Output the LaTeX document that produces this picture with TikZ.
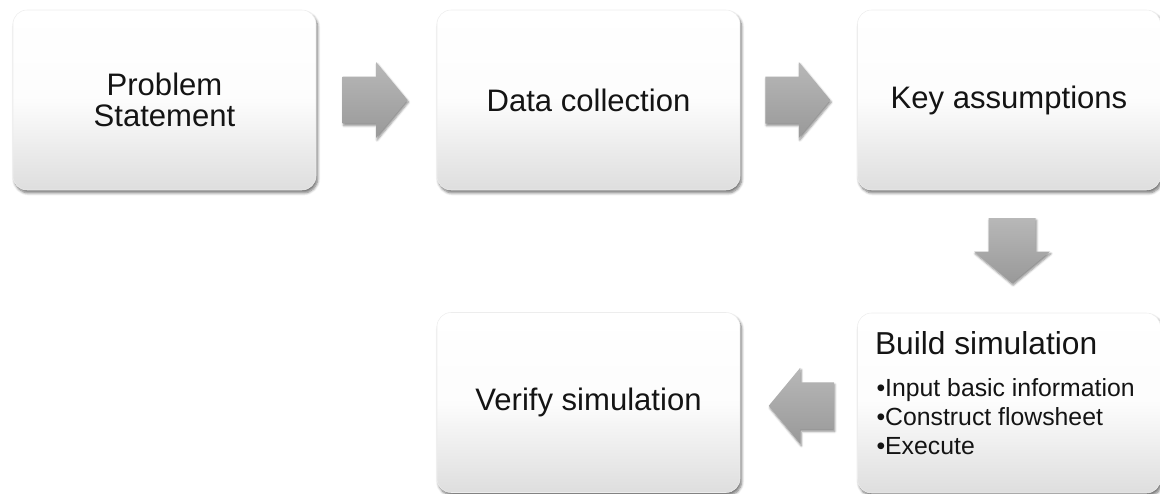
\documentclass[tikz,border=0pt]{standalone}
\usepackage{fontspec}
\setmainfont{Liberation Sans}
\usetikzlibrary{calc,shadows.blur}

\tikzset{
  stepbox/.style={
    rectangle, rounded corners=14*0.75pt,
    minimum width=303*0.75pt, minimum height=180*0.75pt,
    inner sep=0pt,
    draw=black!7, line width=0.4pt,
    top color=white, bottom color=black!13, middle color=black!1,
    blur shadow={shadow xshift=1.2pt, shadow yshift=-2.2pt,
                 shadow blur radius=2pt, shadow blur steps=6,
                 shadow opacity=55}
  },
  boxtext/.style={font=\fontsize{23.3}{23.5}\selectfont, text=black!92, align=center},
  listtext/.style={font=\fontsize{18.6}{20}\selectfont, text=black!92, anchor=base west, inner sep=0pt},
  pics/blockarrow/.style={code={
    \path[top color=black!28, bottom color=black!40,
          blur shadow={shadow xshift=0.8pt, shadow yshift=-1.6pt,
                       shadow blur radius=1.6pt, shadow blur steps=5,
                       shadow opacity=45}]
      (-32.5,-23.5) -- (1,-23.5) -- (1,-38) -- (32.5,0)
      -- (1,38) -- (1,23.5) -- (-32.5,23.5) -- cycle;
  }}
}

\begin{document}
\begin{tikzpicture}[x=0.75pt, y=-0.75pt]
  \useasboundingbox (0,0) rectangle (1160,493);

  % process steps
  \node[stepbox] (problem) at (164.5,100) {};
  \node[stepbox] (data)    at (588.5,100) {};
  \node[stepbox] (assume)  at (1009,100)  {};
  \node[stepbox] (build)   at (1009,403)  {};
  \node[stepbox] (verify)  at (588.5,402.5) {};

  \node[boxtext] (problemtxt) at (problem) {Problem\\Statement};
  \node[boxtext] (datatxt)    at (data)    {Data collection};
  \node[boxtext] (assumetxt)  at (assume)  {Key assumptions};
  \node[boxtext] (verifytxt)  at (verify)  {Verify simulation};

  % build step: heading with a short list
  \node[listtext, font=\fontsize{23.8}{24}\selectfont] (buildtxt)
    at ($(build.north west)+(17.5,42)$) {Build simulation};
  \node[listtext] (item1) at ($(build.north west)+(19,84)$) {\textbullet Input basic information};
  \node[listtext] (item2) at ($(build.north west)+(19,113)$) {\textbullet Construct flowsheet};
  \node[listtext] (item3) at ($(build.north west)+(19,142)$) {\textbullet Execute};

  % block arrows between the steps
  \pic at ($(problem.east)!0.5!(data.west)+(-1.5,0)$) {blockarrow};
  \pic at ($(data.east)!0.5!(assume.west)+(-1,0)$) {blockarrow};
  \pic[rotate=-90] at ($(assume.south)!0.5!(build.north)+(3,-1)$) {blockarrow};
  \pic[rotate=180] at ($(build.west)!0.5!(verify.east)+(2.5,3)$) {blockarrow};
\end{tikzpicture}
\end{document}
